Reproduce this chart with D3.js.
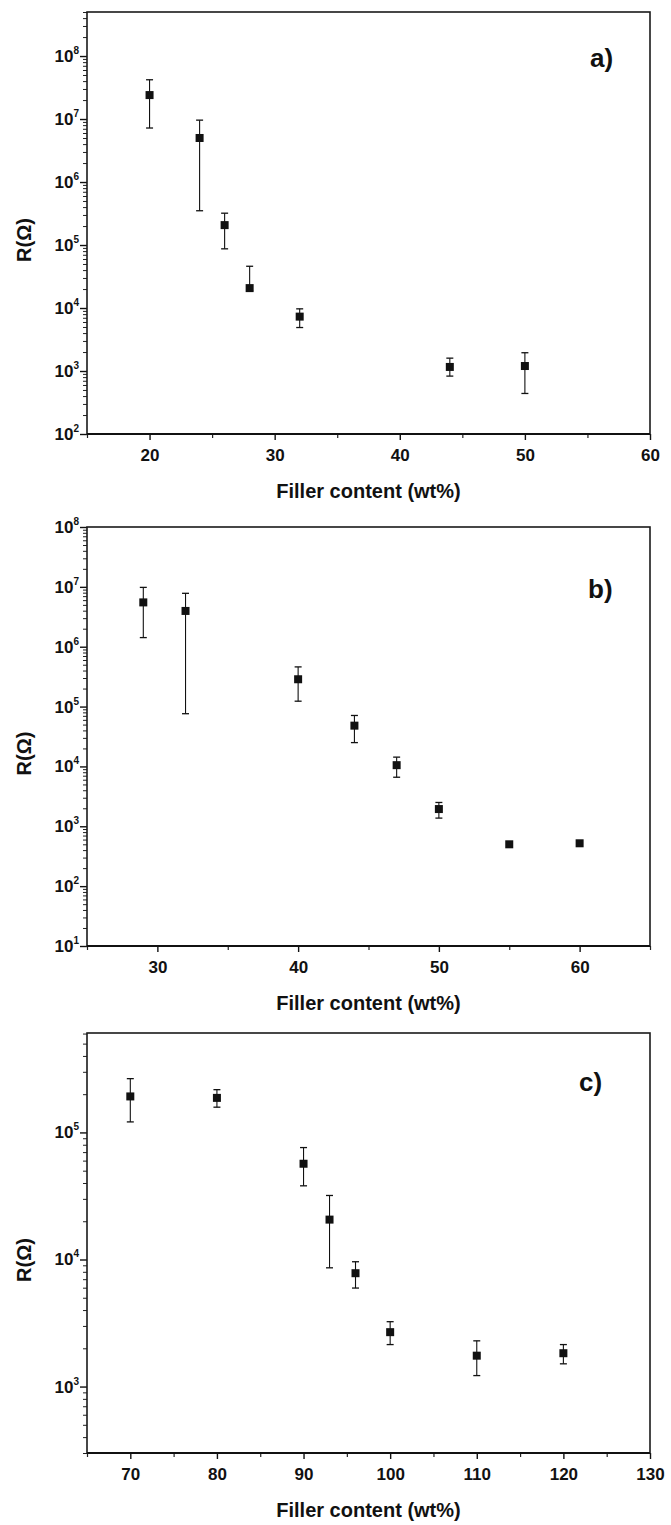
<!DOCTYPE html>
<html>
<head>
<meta charset="utf-8">
<script src="https://cdn.jsdelivr.net/npm/d3@7/dist/d3.min.js"></script>
<style>
  html, body { margin: 0; padding: 0; background: #fff; }
  svg { display: block; }
  text { font-family: "Liberation Sans", Arial, Helvetica, sans-serif; fill: #111; }
</style>
</head>
<body>
<svg id="chart" width="671" height="1525"></svg>
<script>
// ---------- DATA ----------
// Panel a)
const xA   = [20, 24, 26, 28, 32, 44, 50];
const rA   = [2.4e7, 5.0e6, 2.07e5, 2.07e4, 7.3e3, 1.16e3, 1.2e3];
const hiA  = [4.2e7, 9.6e6, 3.2e5, 4.6e4, 9.7e3, 1.6e3, 1.95e3];
const loA  = [7.2e6, 3.5e5, 8.7e4, 1.9e4, 4.9e3, 8.3e2, 4.4e2];
const xTicksA = [20, 30, 40, 50, 60];
const yExpA   = [2, 3, 4, 5, 6, 7, 8];

// Panel b)
const xB   = [29, 32, 40, 44, 47, 50, 55, 60];
const rB   = [5.5e6, 3.96e6, 2.86e5, 4.8e4, 1.05e4, 1.94e3, 5.0e2, 5.2e2];
const hiB  = [9.8e6, 7.8e6, 4.6e5, 7.1e4, 1.43e4, 2.5e3, null, null];
const loB  = [1.42e6, 7.6e4, 1.23e5, 2.5e4, 6.6e3, 1.37e3, null, null];
const xTicksB = [30, 40, 50, 60];
const yExpB   = [1, 2, 3, 4, 5, 6, 7, 8];

// Panel c)
const xC   = [70, 80, 90, 93, 96, 100, 110, 120];
const rC   = [1.92e5, 1.87e5, 5.67e4, 2.06e4, 7.8e3, 2.68e3, 1.75e3, 1.83e3];
const hiC  = [2.65e5, 2.17e5, 7.6e4, 3.19e4, 9.6e3, 3.24e3, 2.29e3, 2.14e3];
const loC  = [1.21e5, 1.58e5, 3.8e4, 8.6e3, 5.96e3, 2.14e3, 1.22e3, 1.51e3];
const xTicksC = [70, 80, 90, 100, 110, 120, 130];
const yExpC   = [3, 4, 5];

const panelLabels = ["a)", "b)", "c)"];
const xTitle = "Filler content (wt%)";
const yTitle = "R(\u03A9)";

// ---------- LAYOUT ----------
const svg = d3.select("#chart");
const L = 87, R = 650;

const panels = [
  { x: xA, r: rA, hi: hiA, lo: loA, xTicks: xTicksA, yExp: yExpA,
    xDom: [15, 60], yDom: [1e2, 5e8], top: 12, bottom: 434,
    label: panelLabels[0], lx: 590, ly: 67 },
  { x: xB, r: rB, hi: hiB, lo: loB, xTicks: xTicksB, yExp: yExpB,
    xDom: [25, 65], yDom: [1e1, 1e8], top: 527, bottom: 946,
    label: panelLabels[1], lx: 588, ly: 598 },
  { x: xC, r: rC, hi: hiC, lo: loC, xTicks: xTicksC, yExp: yExpC,
    xDom: [65, 130], yDom: [3e2, 6.06e5], top: 1033, bottom: 1453,
    label: panelLabels[2], lx: 579, ly: 1091 }
];

panels.forEach(p => {
  const x = d3.scaleLinear().domain(p.xDom).range([L, R]);
  const y = d3.scaleLog().domain(p.yDom).range([p.bottom, p.top]);
  const g = svg.append("g");

  // minor y ticks
  const minors = [];
  const e0 = Math.floor(Math.log10(p.yDom[0])), e1 = Math.ceil(Math.log10(p.yDom[1]));
  for (let e = e0; e <= e1; e++) {
    for (let m = 2; m <= 9; m++) {
      const v = m * Math.pow(10, e);
      if (v >= p.yDom[0] * 0.999 && v <= p.yDom[1] * 1.001) minors.push(v);
    }
  }
  const yMinor = g.append("g").attr("transform", `translate(${L},0)`)
    .call(d3.axisLeft(y).tickValues(minors).tickSize(4).tickSizeOuter(0).tickFormat(() => ""));
  yMinor.select(".domain").remove();
  yMinor.selectAll("line").attr("stroke", "#222").attr("stroke-width", 1);

  const majorsY = p.yExp.map(e => Math.pow(10, e));
  const yMajor = g.append("g").attr("transform", `translate(${L},0)`)
    .call(d3.axisLeft(y).tickValues(majorsY).tickSize(7).tickSizeOuter(0).tickFormat(() => ""));
  yMajor.select(".domain").remove();
  yMajor.selectAll("line").attr("stroke", "#111").attr("stroke-width", 1.4);

  // y tick labels with superscripts
  p.yExp.forEach(e => {
    const t = g.append("text")
      .attr("x", 79).attr("y", y(Math.pow(10, e)) + 6)
      .attr("text-anchor", "end")
      .attr("font-size", 17).attr("font-weight", "bold");
    t.append("tspan").text("10");
    t.append("tspan").attr("font-size", 10).attr("dy", -8).text(String(e));
  });

  // x ticks
  const minorX = d3.range(p.xDom[0], p.xDom[1] + 0.001, 5).filter(v => !p.xTicks.includes(v));
  const xMinor = g.append("g").attr("transform", `translate(0,${p.bottom})`)
    .call(d3.axisBottom(x).tickValues(minorX).tickSize(4).tickSizeOuter(0).tickFormat(() => ""));
  xMinor.select(".domain").remove();
  xMinor.selectAll("line").attr("stroke", "#222").attr("stroke-width", 1.2);

  const xMajor = g.append("g").attr("transform", `translate(0,${p.bottom})`)
    .call(d3.axisBottom(x).tickValues(p.xTicks).tickSize(6).tickSizeOuter(0).tickPadding(9).tickFormat(d3.format("d")));
  xMajor.select(".domain").remove();
  xMajor.selectAll("line").attr("stroke", "#111").attr("stroke-width", 1.4);
  xMajor.selectAll("text")
    .attr("font-size", 17).attr("font-weight", "bold")
    .attr("fill", "#111")
    .style("font-family", "'Liberation Sans', Arial, sans-serif");

  // frame
  g.append("rect")
    .attr("x", L).attr("y", p.top)
    .attr("width", R - L).attr("height", p.bottom - p.top)
    .attr("fill", "none").attr("stroke", "#1a1a1a").attr("stroke-width", 1.6);
  g.append("line")
    .attr("x1", L).attr("x2", R).attr("y1", p.bottom).attr("y2", p.bottom)
    .attr("stroke", "#111").attr("stroke-width", 2);

  // error bars
  const cap = 3.5;
  p.x.forEach((xv, i) => {
    if (p.hi[i] == null || p.lo[i] == null) return;
    const cx = x(xv);
    g.append("line").attr("x1", cx).attr("x2", cx)
      .attr("y1", y(p.hi[i])).attr("y2", y(p.lo[i]))
      .attr("stroke", "#111").attr("stroke-width", 1.1);
    [p.hi[i], p.lo[i]].forEach(v => {
      g.append("line").attr("x1", cx - cap).attr("x2", cx + cap)
        .attr("y1", y(v)).attr("y2", y(v))
        .attr("stroke", "#111").attr("stroke-width", 1.3);
    });
  });

  // markers
  const s = 8;
  g.selectAll("rect.pt").data(p.x.map((xv, i) => [xv, p.r[i]]))
    .enter().append("rect").attr("class", "pt")
    .attr("x", d => x(d[0]) - s / 2).attr("y", d => y(d[1]) - s / 2)
    .attr("width", s).attr("height", s).attr("fill", "#111");

  // titles
  g.append("text")
    .attr("x", (L + R) / 2).attr("y", p.bottom + 64)
    .attr("text-anchor", "middle")
    .attr("font-size", 20).attr("font-weight", "bold")
    .text(xTitle);

  const cy = (p.top + p.bottom) / 2 + 17;
  g.append("text")
    .attr("transform", `translate(31,${cy}) rotate(-90)`)
    .attr("text-anchor", "middle")
    .attr("font-size", 20).attr("font-weight", "bold")
    .text(yTitle);

  g.append("text")
    .attr("x", p.lx).attr("y", p.ly)
    .attr("font-size", 26).attr("font-weight", "bold")
    .text(p.label);
});
</script>
</body>
</html>
